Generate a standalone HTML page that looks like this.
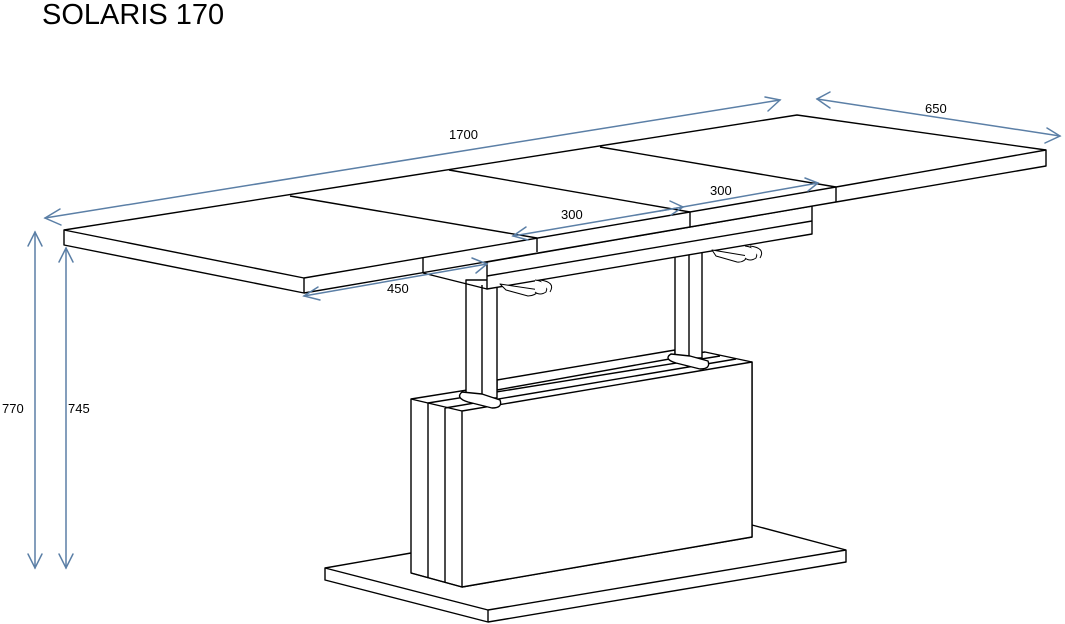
<!DOCTYPE html>
<html><head><meta charset="utf-8"><style>
html,body{margin:0;padding:0;background:#fff;}
svg{display:block}
text{font-family:"Liberation Sans",Arial,sans-serif;}
</style></head><body>
<svg width="1065" height="624" viewBox="0 0 1065 624" xmlns="http://www.w3.org/2000/svg">
<rect width="1065" height="624" fill="#fff"/>
<text x="42" y="24" font-size="29" fill="#000">SOLARIS 170</text>
<g stroke="#000" stroke-width="1.4" fill="#fff" stroke-linejoin="round">
<!-- base plate -->
<polygon points="325,568 411,553 752,525 846,550 846,562 488,622 325,580"/>
<line x1="325" y1="568" x2="488" y2="610"/>
<line x1="488" y1="610" x2="846" y2="550"/>
<line x1="488" y1="610" x2="488" y2="622"/>
<!-- box -->
<polygon points="411,399 705,352 752,362 752,537 462,587 411,573"/>
<polygon points="462,411 752,362 752,537 462,587"/>
<line x1="428" y1="403" x2="428" y2="578"/>
<line x1="445" y1="408" x2="445" y2="582"/>
<line x1="411" y1="399" x2="462" y2="411"/>
<line x1="428" y1="403" x2="720" y2="356"/>
<line x1="445" y1="408" x2="736" y2="359"/>
<line x1="411" y1="573" x2="462" y2="587"/>
<!-- bar between legs -->
<polygon points="497,380 675,350 675,358 497,390"/>
<!-- legs -->
<rect x="466" y="280" width="31" height="118"/>
<line x1="482" y1="285" x2="482" y2="398"/>
<rect x="675" y="250" width="27" height="108"/>
<line x1="689" y1="254" x2="689" y2="358"/>
<!-- feet -->
<path d="M462,392 Q455,398 468,402 L492,408 Q503,408 500,400 L482,394 Z"/>
<path d="M671,354 Q663,359 676,363 L700,369 Q711,369 708,361 L690,356 Z"/>
<!-- apron -->
<polygon points="487,262 812,206 812,234 487,289"/>
<line x1="487" y1="276" x2="812" y2="221"/>
<line x1="423" y1="273" x2="487" y2="289"/>
<!-- clamps -->
<g stroke-width="1">
<path d="M500,284 L540,290 Q535,296 528,296 L506,290 Z" />
<path d="M535,280 Q550,282 546,292 Q540,296 535,292"/>
<path d="M540,280 Q556,282 550,292"/>
<path d="M712,250 L748,256 Q744,263 737,262 L716,256 Z"/>
<path d="M745,246 Q760,248 756,258 Q750,262 745,258"/>
<path d="M750,246 Q766,248 760,258"/>
</g>
<!-- tabletop -->
<polygon points="64,230 797,115 1046,150 1046,166 836,202 304,293 64,245"/>
<line x1="64" y1="230" x2="304" y2="278"/>
<line x1="304" y1="278" x2="836" y2="187"/>
<line x1="836" y1="187" x2="1046" y2="150"/>
<line x1="304" y1="278" x2="304" y2="293"/>
<line x1="836" y1="187" x2="836" y2="202"/>
<line x1="423" y1="258" x2="423" y2="273"/>
<line x1="537" y1="238" x2="537" y2="252"/>
<line x1="690" y1="212" x2="690" y2="227"/>
<line x1="600" y1="147" x2="836" y2="187"/>
<line x1="449" y1="170" x2="690" y2="212"/>
<line x1="290" y1="196" x2="537" y2="238"/>
</g>
<!-- dimension lines -->
<g stroke="#5b7fa6" stroke-width="1.5" fill="none" stroke-linecap="round">
<line x1="45" y1="218" x2="780" y2="100"/>
<polyline points="60,209 45,218 61,225"/>
<polyline points="765,97 780,100 768,111"/>
<line x1="817" y1="99" x2="1060" y2="136"/>
<polyline points="830,92 817,99 830,108"/>
<polyline points="1047,128 1060,136 1045,143"/>
<line x1="660" y1="211" x2="818" y2="183"/>
<polyline points="805,178 818,183 808,191"/>
<line x1="513" y1="236" x2="683" y2="207"/>
<polyline points="526,227 513,236 528,240"/>
<polyline points="670,201 683,207 671,215"/>
<line x1="304" y1="296" x2="487" y2="264"/>
<polyline points="318,287 304,296 320,300"/>
<polyline points="472,258 487,264 476,273"/>
<line x1="35" y1="232" x2="35" y2="568"/>
<polyline points="28,246 35,232 42,246"/>
<polyline points="28,554 35,568 42,554"/>
<line x1="66" y1="248" x2="66" y2="568"/>
<polyline points="59,262 66,248 73,262"/>
<polyline points="59,554 66,568 73,554"/>
</g>
<g font-size="13" fill="#000">
<text x="449" y="139">1700</text>
<text x="925" y="113">650</text>
<text x="710" y="195">300</text>
<text x="561" y="219">300</text>
<text x="387" y="293">450</text>
<text x="2" y="413">770</text>
<text x="68" y="413">745</text>
</g>
</svg>
</body></html>
